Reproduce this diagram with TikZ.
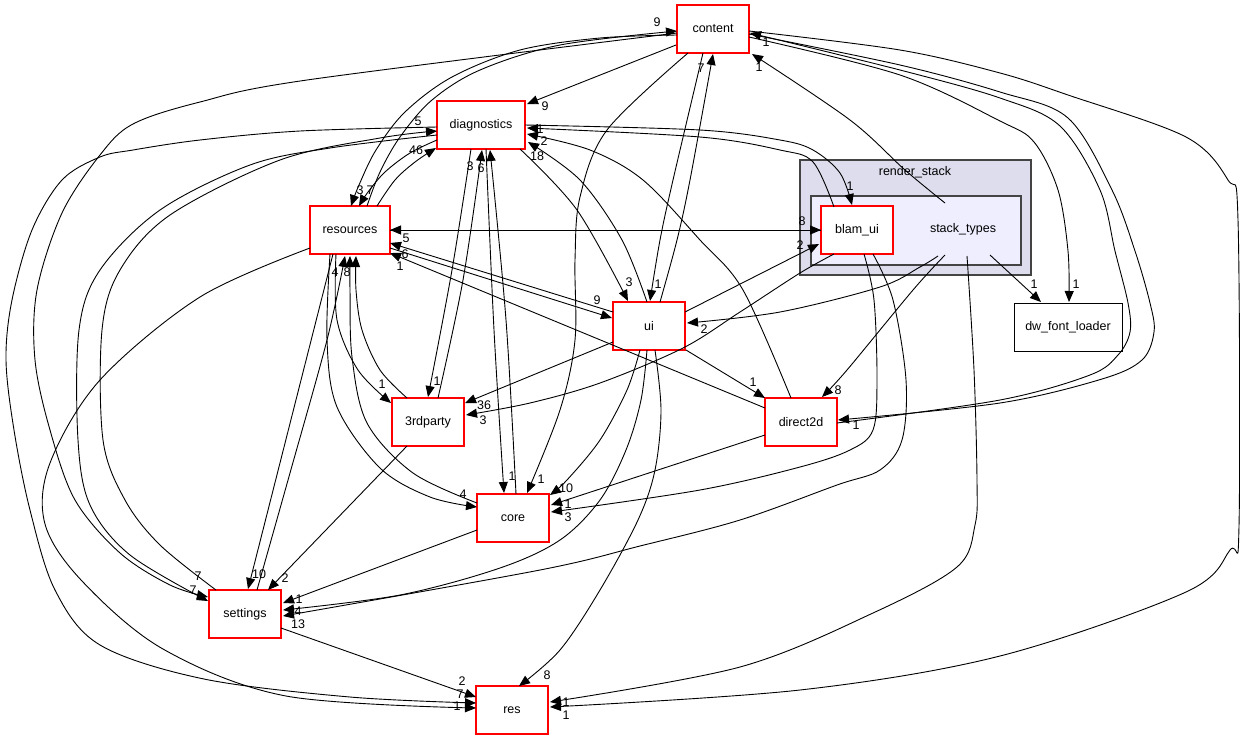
\documentclass[tikz,border=0pt]{standalone}
\usepackage{fontspec}
\setmainfont{Liberation Sans}
\usetikzlibrary{arrows.meta}
\definecolor{clusterouter}{HTML}{DDDDEE}
\definecolor{clusterinner}{HTML}{EEEEFF}
\definecolor{clusterline}{HTML}{444444}
\definecolor{boxred}{HTML}{FF0000}
\begin{document}
\begin{tikzpicture}[x=1pt,y=-1pt,
 box/.style={draw=boxred, line width=1.2pt, fill=white, minimum width=72pt, minimum height=48pt, inner sep=0pt, font=\fontsize{12.5}{14}\selectfont},
 lbl/.style={inner sep=0pt, font=\fontsize{12.5}{14}\selectfont},
 edge/.style={line width=0.9pt, -{Triangle[length=11pt,width=9pt]}},
 sm/.style={smooth, tension=0.55},
 clus/.style={draw=clusterline, line width=1.5pt, inner sep=0pt}]
\useasboundingbox[fill=white] (0,0) rectangle (1240,740);
% clusters
\node[clus, fill=clusterouter, minimum width=231pt, minimum height=115pt] (renderstack) at (915.5,217.5) {};
\node[clus, fill=clusterinner, minimum width=210pt, minimum height=69pt] (stackbox) at (916,230.5) {};
\node[lbl] (renderlbl) at (915,172) {render\_stack};
% nodes
\node[box] (content) at (713,29) {content};
\node[box, minimum width=88pt] (diagnostics) at (481,125) {diagnostics};
\node[box, minimum width=80pt] (resources) at (350,230) {resources};
\node[box] (blamui) at (857,230) {blam\_ui};
\node[box, draw=black, line width=0.9pt, minimum width=108pt] (dwfont) at (1068,327) {dw\_font\_loader};
\node[box] (ui) at (649,326) {ui};
\node[box] (thirdparty) at (428,422) {3rdparty};
\node[box] (direct2d) at (801,422) {direct2d};
\node[box] (core) at (513,518) {core};
\node[box] (settings) at (245,614) {settings};
\node[box] (res) at (512,710) {res};
\node[lbl] (stacktypes) at (963,229) {stack\_types};
% edges
\draw[edge] ([shift={(-37,16)}]content.center) -- ([shift={(46,-21)}]diagnostics.center);
\draw[edge] plot[sm] coordinates {([shift={(-36,6)}]content.center) (600,38) (520,50) (452,77) (405,112) (376,150) (359,185) ([shift={(1,-24)}]resources.center)};
\draw[edge] plot[sm] coordinates {([shift={(17,-24)}]resources.center) (380,172) (400,137) (432,100) (480,70) (560,45) ([shift={(-36,2)}]content.center)};
\draw[edge] plot[sm] coordinates {([shift={(-36,4)}]content.center) (307,80) (200,102) (133,124) (100,155) (62,213) (37,290) (35,360) (50,430) (75,500) (120,553) (170,585) ([shift={(-37,-17)}]settings.center)};
\draw[edge] plot[sm] coordinates {([shift={(-44,2)}]diagnostics.center) (300,131) (200,140) (133,150) (100,157) (62,180) (32,230) (12,300) (6,360) (14,430) (30,510) (55,590) (100,645) (204,679) (350,697) ([shift={(-36,-7)}]res.center)};
\draw[edge] plot[sm] coordinates {([shift={(-29,-24)}]settings.center) (160,545) (125,500) (103,440) (102,330) (120,270) (170,215) (280,160) (380,138) ([shift={(-44,6)}]diagnostics.center)};
\draw[edge] plot[sm] coordinates {([shift={(-44,10)}]diagnostics.center) (330,148) (250,165) (160,210) (100,270) (79,330) (78,440) (90,505) (130,555) ([shift={(-37,-13)}]settings.center)};
\draw[edge] plot[sm] coordinates {([shift={(-44,15)}]diagnostics.center) (410,153) (385,172) (368,192) ([shift={(9,-24)}]resources.center)};
\draw[edge] plot[sm] coordinates {([shift={(27,-24)}]resources.center) (395,180) (415,162) ([shift={(-45,23)}]diagnostics.center)};
\draw[edge] ([shift={(-36,0)}]blamui.center) -- ([shift={(40,0)}]resources.center);
\draw[edge] ([shift={(40,0)}]resources.center) -- ([shift={(-36,0)}]blamui.center);
\draw[edge] ([shift={(-36,-14)}]ui.center) -- ([shift={(40,13)}]resources.center);
\draw[edge] ([shift={(40,18)}]resources.center) -- ([shift={(-37,-8)}]ui.center);
\draw[edge] ([shift={(-36,-14)}]direct2d.center) -- ([shift={(40,23)}]resources.center);
\draw[edge] ([shift={(-17,24)}]resources.center) -- ([shift={(3,-25)}]settings.center);
\draw[edge] plot[sm] coordinates {([shift={(12,-24)}]settings.center) (290,473) (327,340) ([shift={(-5,26)}]resources.center)};
\draw[edge] plot[sm] coordinates {([shift={(-36,-15)}]core.center) (413,473) (367,423) (352,357) (350,290) ([shift={(0,26)}]resources.center)};
\draw[edge] plot[sm] coordinates {([shift={(-21,-24)}]thirdparty.center) (380,370) (362,330) (356,290) ([shift={(6,26)}]resources.center)};
\draw[edge] plot[sm] coordinates {([shift={(-14,24)}]resources.center) (337,320) (358,370) ([shift={(-37,-19)}]thirdparty.center)};
\draw[edge] plot[sm] coordinates {([shift={(-20,24)}]resources.center) (327,340) (337,407) (380,468) (430,497) ([shift={(-36,-11)}]core.center)};
\draw[edge] plot[sm] coordinates {([shift={(-10,24)}]diagnostics.center) (452,270) ([shift={(0,-25)}]thirdparty.center)};
\draw[edge] plot[sm] coordinates {([shift={(10,-24)}]thirdparty.center) (463,280) ([shift={(1,25)}]diagnostics.center)};
\draw[edge] plot[sm] coordinates {([shift={(5,24)}]diagnostics.center) (494,330) ([shift={(-9,-25)}]core.center)};
\draw[edge] plot[sm] coordinates {([shift={(3,-24)}]core.center) (506,320) ([shift={(9,25)}]diagnostics.center)};
\draw[edge] plot[sm] coordinates {([shift={(39,24)}]diagnostics.center) (577,210) ([shift={(-21,-25)}]ui.center)};
\draw[edge] plot[sm] coordinates {([shift={(-2,-24)}]ui.center) (622,240) (580,180) ([shift={(47,17)}]diagnostics.center)};
\draw[edge] plot[sm] coordinates {([shift={(-10,-24)}]direct2d.center) (743,290) (700,240) (643,180) (590,150) ([shift={(46,9)}]diagnostics.center)};
\draw[edge] plot[sm] coordinates {([shift={(-23,-23)}]blamui.center) (813,162) (780,150) (700,137) ([shift={(46,3)}]diagnostics.center)};
\draw[edge] plot[sm] coordinates {([shift={(44,0)}]diagnostics.center) (700,130) (780,140) (813,150) (840,173) ([shift={(-5,-25)}]blamui.center)};
\draw[edge] plot[sm] coordinates {([shift={(11,-24)}]ui.center) (677,240) (690,180) ([shift={(0,25)}]content.center)};
\draw[edge] plot[sm] coordinates {([shift={(-10,24)}]content.center) (673,180) (660,240) ([shift={(1,-25)}]ui.center)};
\draw[edge] plot[sm] coordinates {([shift={(-18,-26)}]stacktypes.center) (905,170) (850,120) ([shift={(39,25)}]content.center)};
\draw[edge] plot[sm] coordinates {([shift={(-25,24)}]content.center) (607,130) (580,197) (575,260) (575,340) (560,410) ([shift={(14,-25)}]core.center)};
\draw[edge] plot[sm] coordinates {([shift={(36,8)}]content.center) (900,75) (1000,121) (1034,142) (1058,190) (1068,251) ([shift={(1,-25)}]dwfont.center)};
\draw[edge] plot[sm] coordinates {([shift={(36,5)}]content.center) (900,65) (1000,92) (1068,118) (1112,190) (1135,251) (1150,303) (1154,332) (1142,360) (1102,379) (1000,403) ([shift={(37,-2)}]direct2d.center)};
\draw[edge] plot[sm] coordinates {([shift={(36,1)}]direct2d.center) (1000,400) (1090,375) (1118,355) (1130,332) (1128,303) (1115,251) (1100,190) (1060,126) (1000,98) (900,70) ([shift={(37,4)}]content.center)};
\draw[edge] plot[sm] coordinates {([shift={(36,2)}]content.center) (900,50) (1000,73) (1068,95) (1186,137) (1228,180) (1238,220) (1239,526) (1230,550) (1186,592) (1000,656) (800,690) ([shift={(38,-3)}]res.center)};
\draw[edge] ([shift={(36,-14)}]ui.center) -- ([shift={(-38,14)}]blamui.center);
\draw[edge] ([shift={(37,24)}]ui.center) -- ([shift={(-36,-24)}]direct2d.center);
\draw[edge] ([shift={(-36,16)}]ui.center) -- ([shift={(37,-19)}]thirdparty.center);
\draw[edge] plot[sm] coordinates {([shift={(-9,24)}]ui.center) (627,390) (600,440) (567,480) ([shift={(37,-23)}]core.center)};
\draw[edge] plot[sm] coordinates {([shift={(-2,24)}]ui.center) (641,400) (626,450) (600,500) (560,540) (500,568) (400,595) ([shift={(38,-4)}]settings.center)};
\draw[edge] plot[sm] coordinates {([shift={(6,24)}]ui.center) (661,410) (655,470) (638,520) (600,590) (560,650) ([shift={(7,-24)}]res.center)};
\draw[edge] plot[sm] coordinates {([shift={(-23,24)}]blamui.center) (800,273) (740,312) (683,348) (600,383) (530,403) ([shift={(38,-7)}]thirdparty.center)};
\draw[edge] plot[sm] coordinates {([shift={(7,24)}]blamui.center) (874,300) (877,380) (873,430) (850,450) (800,467) (700,490) ([shift={(38,-6)}]core.center)};
\draw[edge] plot[sm] coordinates {([shift={(16,24)}]blamui.center) (893,300) (906,380) (902,440) (880,470) (837,485) (740,520) (640,546) (540,570) ([shift={(38,2)}]settings.center)};
\draw[edge] plot[sm] coordinates {([shift={(-25,27)}]stacktypes.center) (920,267) (880,287) (780,312) ([shift={(38,-3)}]ui.center)};
\draw[edge] plot[sm] coordinates {([shift={(-18,26)}]stacktypes.center) (913,290) (847,370) ([shift={(21,-25)}]direct2d.center)};
\draw[edge] plot[sm] coordinates {([shift={(4,27)}]stacktypes.center) (974,370) (977,480) (975,525) (957,567) (873,613) (740,667) ([shift={(38,-8)}]res.center)};
\draw[edge] ([shift={(27,26)}]stacktypes.center) -- ([shift={(-27,-25)}]dwfont.center);
\draw[edge] ([shift={(-21,24)}]thirdparty.center) -- ([shift={(23,-24)}]settings.center);
\draw[edge] ([shift={(-36,12)}]core.center) -- ([shift={(38,-11)}]settings.center);
\draw[edge] ([shift={(36,14)}]settings.center) -- ([shift={(-36,-13)}]res.center);
\draw[edge] plot[sm] coordinates {([shift={(-40,18)}]resources.center) (200,297) (100,380) (50,463) (45,524) (82,581) (163,649) (286,696) ([shift={(-36,-2)}]res.center)};
\draw[edge] ([shift={(-36,13)}]direct2d.center) -- ([shift={(38,-13)}]core.center);
% labels
\node[lbl] (t1) at (657,22) {9};
\node[lbl] (t2) at (766,42) {1};
\node[lbl] (t3) at (701,68) {7};
\node[lbl] (t4) at (759,67) {1};
\node[lbl] (t5) at (545,106) {9};
\node[lbl] (t6) at (418,121) {5};
\node[lbl] (t7) at (416,150) {46};
\node[lbl] (t8) at (470,166) {3};
\node[lbl] (t9) at (481,168) {6};
\node[lbl] (t10) at (540,129) {1};
\node[lbl] (t11) at (544,141) {2};
\node[lbl] (t12) at (537,156) {18};
\node[lbl] (t13) at (360,190) {3};
\node[lbl] (t14) at (370,190) {7};
\node[lbl] (t15) at (406,238) {5};
\node[lbl] (t16) at (405,254) {6};
\node[lbl] (t17) at (400,266) {1};
\node[lbl] (t18) at (335,272) {4};
\node[lbl] (t19) at (347,272) {8};
\node[lbl] (t20) at (802,221) {8};
\node[lbl] (t21) at (800,245) {2};
\node[lbl] (t22) at (850,186) {1};
\node[lbl] (t23) at (1034,284) {1};
\node[lbl] (t24) at (1076,284) {1};
\node[lbl] (t25) at (629,282) {3};
\node[lbl] (t26) at (658,284) {1};
\node[lbl] (t27) at (597,300) {9};
\node[lbl] (t28) at (704,329) {2};
\node[lbl] (t29) at (437,381) {1};
\node[lbl] (t30) at (382,384) {1};
\node[lbl] (t31) at (484,405) {36};
\node[lbl] (t32) at (483,420) {3};
\node[lbl] (t33) at (753,382) {1};
\node[lbl] (t34) at (838,390) {8};
\node[lbl] (t35) at (856,425) {1};
\node[lbl] (t36) at (512,476) {1};
\node[lbl] (t37) at (541,479) {1};
\node[lbl] (t38) at (566,488) {10};
\node[lbl] (t39) at (568,504) {1};
\node[lbl] (t40) at (568,517) {3};
\node[lbl] (t41) at (463,494) {4};
\node[lbl] (t42) at (259,574) {10};
\node[lbl] (t43) at (285,578) {2};
\node[lbl] (t44) at (198,576) {7};
\node[lbl] (t45) at (193,590) {7};
\node[lbl] (t46) at (299,599) {1};
\node[lbl] (t47) at (298,611) {4};
\node[lbl] (t48) at (298,624) {13};
\node[lbl] (t49) at (547,675) {8};
\node[lbl] (t50) at (462,681) {2};
\node[lbl] (t51) at (460,694) {7};
\node[lbl] (t52) at (457,706) {1};
\node[lbl] (t53) at (566,702) {1};
\node[lbl] (t54) at (566,715) {1};
\end{tikzpicture}
\end{document}
